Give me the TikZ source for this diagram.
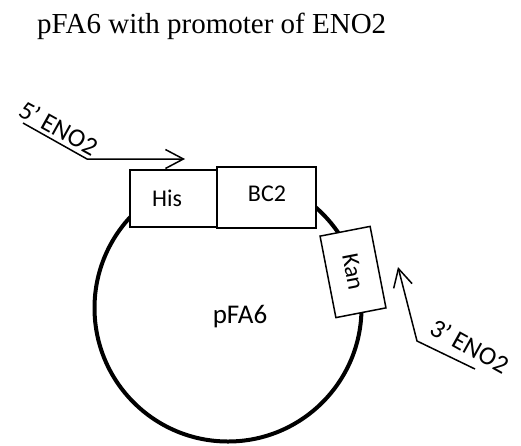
\documentclass[tikz,border=0pt]{standalone}
\usepackage{fontspec}
\setmainfont{Liberation Serif}
\newfontfamily\calfont{Carlito}
\usetikzlibrary{arrows.meta}
\begin{document}
\begin{tikzpicture}[x=1pt,y=-1pt,
  box/.style={draw, line width=1.5pt, fill=white, inner sep=0pt},
  lbl/.style={font=\calfont\fontsize{24}{28}\selectfont, inner sep=0pt},
  plbl/.style={font=\calfont\fontsize{26}{30}\selectfont, inner sep=0pt, rotate=-29},
  primer/.style={line width=1.5pt, line join=miter, -{Straight Barb[length=18pt,width=19pt]}},
  ring/.style={circle, draw, line width=4pt, inner sep=0pt, minimum size=267pt}]
\useasboundingbox (0,0) rectangle (521,445);
% title
\node[anchor=base west, inner sep=0pt, font=\fontsize{29}{34}\selectfont] (title) at (37,33) {pFA6 with promoter of ENO2};
% plasmid
\node[ring] (plasmid) at (228,308) {};
\node[lbl, font=\calfont\fontsize{27}{31}\selectfont, anchor=base] (name) at (240,323) {pFA6};
% cassette boxes
\node[box, minimum width=87pt, minimum height=57pt] (his) at (173.5,198.5) {};
\node[lbl, anchor=base] (histext) at (167,206) {His};
\node[box, minimum width=99pt, minimum height=61pt] (bc) at (266.5,197.5) {};
\node[lbl, anchor=base] (bctext) at (267,201.5) {BC2};
\node[box, lbl, minimum width=83pt, minimum height=51pt, rotate=-79] (kan) at (353,272) {Kan};
% primers
\coordinate (p5a) at (23,123);
\coordinate (p5b) at (87,159);
\coordinate (p5c) at (185,159);
\draw[primer] (p5a) -- (p5b) -- (p5c);
\node[plbl] (l5) at (59,128) {5’ ENO2};
\coordinate (p3a) at (475,369);
\coordinate (p3b) at (417,341);
\coordinate (p3c) at (398,267);
\draw[primer] (p3a) -- (p3b) -- (p3c);
\node[plbl] (l3) at (470,346) {3’ ENO2};
\end{tikzpicture}
\end{document}
